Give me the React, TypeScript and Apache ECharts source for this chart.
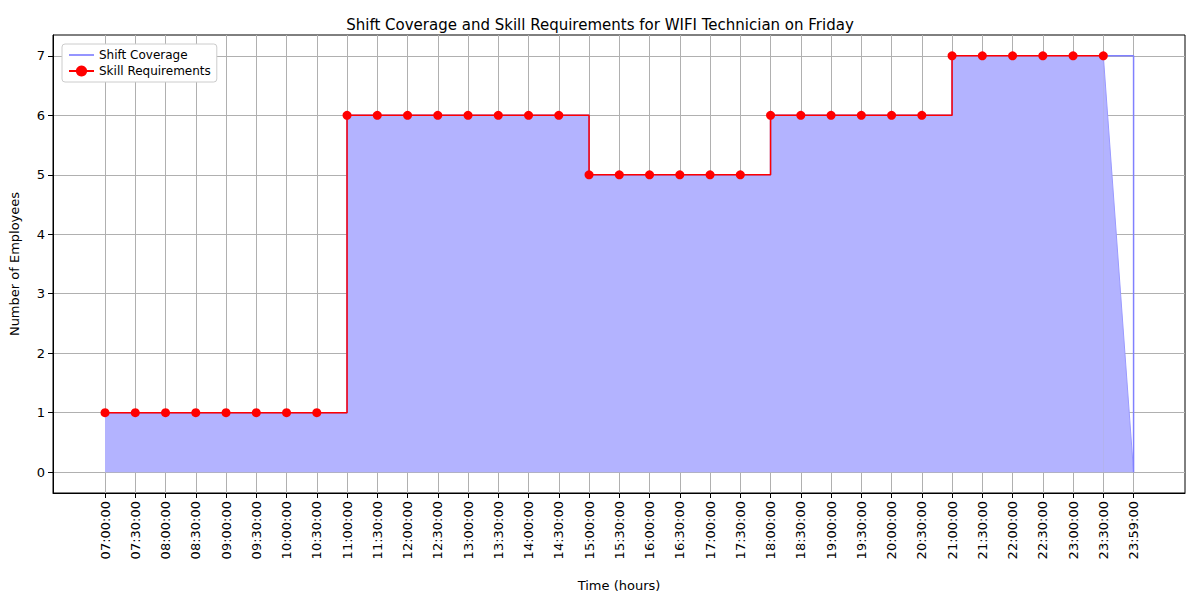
import * as echarts from 'echarts';
import { useEffect, useRef } from 'react';

const timeLabels = [
  '07:00:00', '07:30:00', '08:00:00', '08:30:00', '09:00:00', '09:30:00', '10:00:00', '10:30:00',
  '11:00:00', '11:30:00', '12:00:00', '12:30:00', '13:00:00', '13:30:00', '14:00:00', '14:30:00',
  '15:00:00', '15:30:00', '16:00:00', '16:30:00', '17:00:00', '17:30:00',
  '18:00:00', '18:30:00', '19:00:00', '19:30:00', '20:00:00', '20:30:00',
  '21:00:00', '21:30:00', '22:00:00', '22:30:00', '23:00:00', '23:30:00', '23:59:00'
];
const skillRequirements = [
  1, 1, 1, 1, 1, 1, 1, 1,
  6, 6, 6, 6, 6, 6, 6, 6,
  5, 5, 5, 5, 5, 5,
  6, 6, 6, 6, 6, 6,
  7, 7, 7, 7, 7, 7
];
const shiftCoverage = [...skillRequirements, 0];
const yTicks = [0, 1, 2, 3, 4, 5, 6, 7];

export default function App() {
  const elRef = useRef<HTMLDivElement | null>(null);

  useEffect(() => {
    if (!elRef.current) return;
    const chart = echarts.init(elRef.current, undefined, { renderer: 'svg' });
    const idx = timeLabels.map((_, i) => i);
    const last = shiftCoverage.length - 1;

    chart.setOption({
      animation: false,
      textStyle: { fontFamily: 'DejaVu Sans' },
      title: {
        text: 'Shift Coverage and Skill Requirements for WIFI Technician on Friday',
        left: 'center', top: 12,
        textStyle: { fontSize: 15, fontWeight: 'normal', color: '#000' }
      },
      legend: {
        left: 62, top: 44, orient: 'vertical', itemGap: 4,
        backgroundColor: '#fff', borderColor: '#ccc', borderWidth: 1, borderRadius: 3, padding: [5, 6],
        textStyle: { fontSize: 12, color: '#000' },
        data: [
          { name: 'Shift Coverage', icon: 'path://M0,0 L30,0 L30,2 L0,2 Z' },
          { name: 'Skill Requirements' }
        ]
      },
      grid: { left: 53, right: 15, top: 35, bottom: 107, show: true, borderColor: '#000', borderWidth: 1 },
      xAxis: {
        type: 'value', min: -1.72, max: 35.7,
        name: 'Time (hours)', nameLocation: 'middle', nameGap: 86,
        nameTextStyle: { fontSize: 13, color: '#000' },
        axisLine: { onZero: false, lineStyle: { color: '#000' } },
        axisTick: { customValues: idx, lineStyle: { color: '#000' } },
        axisLabel: {
          customValues: idx, rotate: 90, fontSize: 13, color: '#000',
          formatter: (v: number) => timeLabels[Math.round(v)] ?? ''
        },
        splitLine: { show: true, lineStyle: { color: '#b0b0b0' } }
      },
      yAxis: {
        type: 'value', min: -0.35, max: 7.35,
        name: 'Number of Employees', nameLocation: 'middle', nameGap: 32,
        nameTextStyle: { fontSize: 13, color: '#000' },
        axisLine: { show: true, onZero: false, lineStyle: { color: '#000' } },
        axisTick: { show: true, customValues: yTicks, lineStyle: { color: '#000' } },
        axisLabel: { customValues: yTicks, fontSize: 13, color: '#000' },
        splitLine: { show: true, lineStyle: { color: '#b0b0b0' } }
      },
      series: [
        {
          name: 'fillStep', type: 'line', step: 'end', symbol: 'none',
          lineStyle: { width: 0 }, areaStyle: { color: '#b3b3ff', opacity: 1 },
          data: skillRequirements.map((v, i) => [i, v]), silent: true, z: 1
        },
        {
          name: 'fillTail', type: 'line', symbol: 'none',
          lineStyle: { color: '#9a9aff', width: 1 }, areaStyle: { color: '#b3b3ff', opacity: 1 },
          data: [[last - 1, shiftCoverage[last - 1]], [last, shiftCoverage[last]]], silent: true, z: 1
        },
        {
          name: 'Shift Coverage', type: 'line', step: 'end', symbol: 'none',
          itemStyle: { color: '#8080ff' }, lineStyle: { color: '#8080ff', width: 1.5 },
          data: shiftCoverage.map((v, i) => [i, v]), z: 2
        },
        {
          name: 'Skill Requirements', type: 'line', step: 'end', symbol: 'circle', symbolSize: 9,
          itemStyle: { color: '#ff0000' }, lineStyle: { color: '#ff0000', width: 1.5 },
          data: skillRequirements.map((v, i) => [i, v]), z: 3
        }
      ]
    });

    return () => chart.dispose();
  }, []);

  return <div ref={elRef} style={{ width: 1200, height: 600, margin: -8 }} />;
}
